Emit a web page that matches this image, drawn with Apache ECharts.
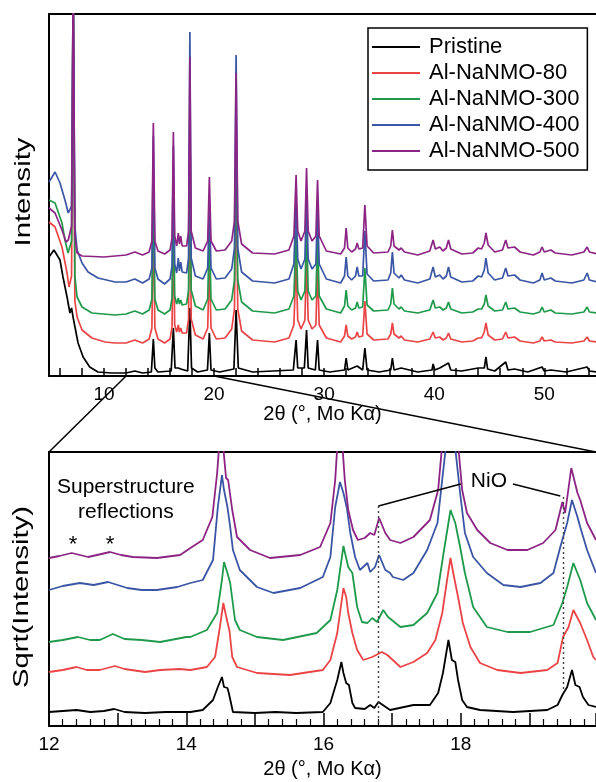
<!DOCTYPE html>
<html>
<head>
<meta charset="utf-8">
<script src="https://cdn.jsdelivr.net/npm/echarts@6.0.0/dist/echarts.min.js"></script>
<style>
html, body { margin: 0; padding: 0; background: #fff; }
#main { width: 596px; height: 782px; }
</style>
</head>
<body>
<div id="main"></div>
<script>
// sample names and colours
var names = ['Pristine', 'Al-NaNMO-80', 'Al-NaNMO-300', 'Al-NaNMO-400', 'Al-NaNMO-500'];
var colors = ['#000000', '#ea4446', '#1f9a4b', '#3b55a5', '#8c2484'];

// tick labels
var topLabels = [10, 20, 30, 40, 50];
var topTicks = [6, 8, 10, 12, 14, 16, 18, 20, 22, 24, 26, 28, 30, 32, 34, 36, 38, 40, 42, 44, 46, 48, 50, 52, 54];
var botLabels = [12, 14, 16, 18];

// full pattern, 2theta vs intensity (offset for display)
var pristineFull = [[5.0,119],[5.45,126],[6.0,116],[6.27,99],[6.64,79],[6.9,63],[7.05,68],[7.2,58],[7.36,49],[7.64,33],[8.1,19],[8.7,9],[9.45,4],[10.7,3],[12.0,3],[12.8,5],[13.5,3],[14.3,4],[14.48,37],[14.62,8],[14.9,4],[16.1,5],[16.3,48],[16.45,8],[16.75,8],[16.97,7],[17.6,5],[17.8,68],[17.95,8],[18.5,4],[19.4,6],[19.57,43],[19.72,6],[20.5,4],[21.8,7],[22.0,66],[22.2,8],[23.5,4],[27.2,6],[27.45,36],[27.6,8],[28.2,8],[28.4,46],[28.55,8],[29.2,6],[29.4,36],[29.55,6],[30.5,4],[31.85,6],[32.0,18],[32.15,6],[33.0,10],[33.5,6],[33.7,28],[33.9,6],[35.0,4],[36.05,6],[36.2,18],[36.35,6],[37.0,8],[38.5,4],[39.8,6],[39.9,12],[40.05,6],[40.5,8],[41.3,13],[41.5,6],[42.5,5],[44.0,8],[44.55,8],[44.7,19],[44.85,7],[45.5,5],[46.5,14],[46.7,6],[47.3,7],[48.5,4],[49.8,9],[50.0,5],[50.6,6],[52.0,4],[53.9,9],[54.1,5],[54.8,4]];
var al80Full = [[5.0,154],[5.55,149],[6.18,129],[6.64,103],[6.82,89],[7.05,100],[7.2,400],[7.35,75],[7.55,59],[8.0,46],[8.9,38],[10.1,34],[11.0,33],[12.0,33],[12.8,36],[13.5,33],[14.1,37],[14.35,48],[14.48,165],[14.62,48],[14.9,37],[15.5,33],[16.0,37],[16.18,49],[16.3,155],[16.42,51],[16.6,44],[16.75,51],[16.85,44],[16.97,48],[17.1,43],[17.5,43],[17.68,57],[17.8,225],[17.92,57],[18.3,41],[19.0,37],[19.42,48],[19.57,115],[19.72,48],[20.2,37],[21.0,38],[21.6,47],[21.85,67],[22.0,205],[22.15,67],[22.5,45],[23.5,36],[25.5,34],[26.8,38],[27.25,51],[27.45,115],[27.6,56],[27.9,47],[28.25,56],[28.4,120],[28.55,56],[28.9,47],[29.25,51],[29.4,110],[29.55,51],[30.2,38],[31.5,34],[31.85,40],[32.0,51],[32.15,40],[32.5,37],[32.85,39],[33.0,44],[33.15,39],[33.5,40],[33.7,75],[33.9,42],[34.5,36],[35.8,37],[36.05,42],[36.2,53],[36.35,42],[36.8,38],[37.0,40],[37.3,36],[38.5,34],[39.6,37],[39.9,44],[40.1,38],[40.5,39],[40.8,36],[41.1,38],[41.3,43],[41.5,37],[42.5,34],[43.5,35],[44.0,38],[44.3,38],[44.55,44],[44.7,53],[44.9,41],[45.5,36],[46.2,37],[46.5,44],[46.7,38],[47.3,39],[47.8,35],[49.0,33],[49.6,35],[49.8,39],[50.0,35],[50.6,36],[51.0,34],[52.5,33],[53.6,35],[53.9,39],[54.1,35],[54.8,34]];
var al300Full = [[5.0,176],[5.55,173],[6.18,153],[6.45,136],[6.73,123],[7.05,135],[7.2,400],[7.35,100],[7.55,79],[8.0,69],[8.9,63],[11.0,61],[12.0,62],[12.8,65],[13.5,62],[14.1,66],[14.35,77],[14.48,195],[14.62,77],[14.9,66],[15.5,62],[16.0,66],[16.18,78],[16.3,185],[16.42,80],[16.6,72],[16.75,78],[16.85,72],[16.97,76],[17.1,71],[17.5,72],[17.68,86],[17.8,265],[17.92,86],[18.3,70],[19.0,66],[19.42,77],[19.57,145],[19.72,77],[20.2,66],[21.0,67],[21.6,76],[21.85,96],[22.0,245],[22.15,96],[22.5,74],[23.5,65],[25.5,63],[26.8,67],[27.25,80],[27.45,145],[27.6,85],[27.9,76],[28.25,85],[28.4,150],[28.55,85],[28.9,76],[29.25,80],[29.4,140],[29.55,80],[30.2,67],[31.5,63],[31.85,70],[32.0,86],[32.15,70],[32.5,66],[32.85,68],[33.0,74],[33.15,68],[33.5,69],[33.7,108],[33.9,71],[34.5,65],[35.8,66],[36.05,72],[36.2,88],[36.35,72],[36.8,67],[37.0,69],[37.3,65],[38.5,63],[39.6,66],[39.9,76],[40.1,68],[40.5,69],[40.8,66],[41.1,68],[41.3,74],[41.5,67],[42.5,63],[43.5,64],[44.0,67],[44.3,67],[44.55,72],[44.7,81],[44.9,70],[45.5,65],[46.2,66],[46.5,74],[46.7,67],[47.3,68],[47.8,64],[49.0,62],[49.6,64],[49.8,69],[50.0,64],[50.6,66],[51.0,63],[52.5,62],[53.6,64],[53.9,69],[54.1,64],[54.8,63]];
var al400Full = [[5.0,194],[5.55,204],[6.0,193],[6.45,176],[6.75,163],[7.05,170],[7.2,400],[7.35,150],[7.55,126],[8.0,113],[8.55,104],[9.45,98],[11.0,94],[12.0,94],[12.8,97],[13.5,93],[14.1,97],[14.35,108],[14.48,240],[14.62,108],[14.9,97],[15.5,92],[16.0,97],[16.18,110],[16.3,230],[16.42,112],[16.6,103],[16.75,118],[16.85,105],[16.97,114],[17.1,104],[17.5,103],[17.68,118],[17.8,344],[17.92,118],[18.3,100],[19.0,97],[19.42,108],[19.57,175],[19.72,108],[20.2,97],[21.0,98],[21.6,107],[21.85,128],[22.0,321],[22.15,128],[22.5,104],[23.5,95],[25.5,93],[26.8,97],[27.25,112],[27.45,175],[27.6,117],[27.9,107],[28.25,117],[28.4,180],[28.55,117],[28.9,107],[29.25,112],[29.4,170],[29.55,112],[30.2,97],[31.5,93],[31.85,100],[32.0,119],[32.15,100],[32.5,96],[32.85,100],[33.0,109],[33.15,100],[33.5,100],[33.7,145],[33.9,102],[34.5,95],[35.8,96],[36.05,103],[36.2,124],[36.35,103],[36.8,98],[37.0,101],[37.3,96],[38.5,93],[39.6,97],[39.9,109],[40.1,99],[40.5,101],[40.8,97],[41.1,100],[41.3,109],[41.5,99],[42.5,94],[43.5,95],[44.0,100],[44.3,99],[44.55,106],[44.7,118],[44.9,103],[45.5,96],[46.2,98],[46.5,108],[46.7,100],[47.3,101],[47.8,96],[49.0,93],[49.6,96],[49.8,103],[50.0,96],[50.6,98],[51.0,95],[52.5,93],[53.6,96],[53.9,103],[54.1,96],[54.8,94]];
var al500Full = [[5.0,168],[5.55,163],[6.18,146],[6.55,134],[6.75,136],[7.05,150],[7.2,400],[7.35,140],[7.55,123],[8.0,120],[10.0,119],[12.0,121],[12.8,124],[13.5,121],[14.1,124],[14.35,135],[14.48,253],[14.62,135],[14.9,125],[15.5,122],[16.0,126],[16.18,138],[16.3,244],[16.42,140],[16.6,130],[16.75,143],[16.85,132],[16.97,140],[17.1,130],[17.5,130],[17.68,145],[17.8,319],[17.92,145],[18.3,128],[19.0,125],[19.42,135],[19.57,199],[19.72,135],[20.2,125],[21.0,126],[21.6,135],[21.85,155],[22.0,303],[22.15,155],[22.5,132],[23.5,123],[25.5,122],[26.8,126],[27.25,140],[27.45,201],[27.6,145],[27.9,135],[28.25,145],[28.4,208],[28.55,145],[28.9,135],[29.25,140],[29.4,196],[29.55,140],[30.2,125],[31.5,122],[31.85,128],[32.0,148],[32.15,128],[32.5,124],[32.85,127],[33.0,133],[33.15,127],[33.5,128],[33.7,171],[33.9,130],[34.5,123],[35.8,124],[36.05,130],[36.2,146],[36.35,130],[36.8,126],[37.0,128],[37.3,124],[38.5,121],[39.6,125],[39.9,136],[40.1,127],[40.5,129],[40.8,125],[41.1,128],[41.3,136],[41.5,127],[42.5,122],[43.5,123],[44.0,128],[44.3,127],[44.55,133],[44.7,143],[44.9,131],[45.5,124],[46.2,126],[46.5,136],[46.7,128],[47.3,129],[47.8,124],[49.0,121],[49.6,124],[49.8,129],[50.0,124],[50.6,126],[51.0,123],[52.5,121],[53.6,124],[53.9,129],[54.1,124],[54.8,122]];

// zoom 12-20 deg, sqrt(intensity) (offset for display)
var pristineZoom = [[12.0,14],[12.2,15],[12.4,16],[12.6,14],[12.8,15],[12.95,17],[13.1,14],[13.4,13],[13.7,14],[14.06,14],[14.24,16],[14.39,26],[14.46,39],[14.52,49],[14.55,39],[14.6,38],[14.62,33],[14.68,14],[15.0,13],[15.3,14],[15.6,13],[15.99,14],[16.1,23],[16.2,46],[16.26,64],[16.29,53],[16.33,43],[16.37,41],[16.42,23],[16.46,18],[16.6,17],[16.68,21],[16.74,18],[16.8,24],[16.97,16],[17.31,21],[17.55,21],[17.67,33],[17.74,53],[17.82,86],[17.87,66],[17.92,64],[17.96,46],[18.02,26],[18.09,19],[18.28,16],[18.76,14],[19.26,16],[19.41,21],[19.48,31],[19.55,39],[19.62,56],[19.67,41],[19.73,39],[19.78,29],[19.86,21],[19.97,19]];
var al80Zoom = [[12.0,54],[12.2,56],[12.4,59],[12.55,56],[12.74,56],[12.96,60],[13.1,57],[13.4,54],[13.62,56],[13.9,57],[14.06,56],[14.3,59],[14.42,69],[14.49,99],[14.54,123],[14.58,110],[14.63,95],[14.67,69],[14.74,59],[15.03,53],[15.51,51],[15.99,56],[16.1,66],[16.2,93],[16.29,138],[16.33,129],[16.36,113],[16.42,93],[16.49,76],[16.58,66],[16.71,69],[16.85,74],[16.93,71],[17.12,59],[17.31,64],[17.51,73],[17.63,86],[17.73,113],[17.8,146],[17.85,168],[17.89,153],[17.96,129],[18.03,103],[18.14,79],[18.28,63],[18.53,56],[18.87,53],[19.26,56],[19.41,63],[19.49,89],[19.57,99],[19.64,116],[19.74,103],[19.84,86],[19.93,69],[19.97,66]];
var al300Zoom = [[12.0,84],[12.2,86],[12.42,89],[12.6,86],[12.74,86],[12.93,92],[13.1,87],[13.35,86],[13.62,84],[14.0,89],[14.06,89],[14.3,96],[14.45,113],[14.52,146],[14.55,164],[14.6,153],[14.64,143],[14.71,106],[14.78,96],[15.03,89],[15.41,86],[15.9,93],[16.1,106],[16.2,136],[16.29,180],[16.36,159],[16.42,153],[16.49,119],[16.56,104],[16.64,103],[16.71,108],[16.78,104],[16.87,116],[16.94,109],[17.12,99],[17.31,101],[17.51,113],[17.66,133],[17.74,169],[17.85,216],[17.92,203],[17.99,179],[18.06,153],[18.18,119],[18.38,99],[18.68,94],[19.01,94],[19.35,101],[19.48,123],[19.55,139],[19.64,163],[19.74,146],[19.84,123],[19.97,106]];
var al400Zoom = [[12.0,136],[12.2,140],[12.45,143],[12.65,141],[12.86,144],[13.14,138],[13.35,136],[13.57,136],[13.87,139],[14.06,143],[14.24,146],[14.39,166],[14.46,219],[14.52,251],[14.55,236],[14.6,219],[14.64,199],[14.68,176],[14.78,156],[15.03,139],[15.27,133],[15.66,138],[15.99,149],[16.1,169],[16.17,219],[16.24,244],[16.29,233],[16.34,218],[16.39,193],[16.46,169],[16.53,156],[16.64,163],[16.68,154],[16.75,159],[16.81,171],[16.9,156],[16.97,153],[17.01,149],[17.16,146],[17.31,153],[17.51,176],[17.66,203],[17.74,253],[17.8,290],[17.9,290],[17.99,233],[18.06,193],[18.18,169],[18.38,153],[18.62,141],[18.87,139],[19.16,143],[19.35,153],[19.45,179],[19.55,203],[19.62,226],[19.7,209],[19.74,199],[19.84,176],[19.97,153]];
var al500Zoom = [[12.0,168],[12.15,170],[12.33,173],[12.57,169],[12.89,174],[13.05,171],[13.22,169],[13.57,168],[13.91,171],[14.06,178],[14.24,186],[14.38,209],[14.45,253],[14.49,290],[14.53,285],[14.58,248],[14.61,246],[14.67,216],[14.74,189],[14.93,176],[15.22,168],[15.66,171],[15.95,179],[16.1,203],[16.17,246],[16.21,290],[16.27,285],[16.31,246],[16.36,216],[16.43,196],[16.5,186],[16.6,188],[16.68,193],[16.74,191],[16.81,208],[16.9,193],[16.97,186],[17.12,183],[17.31,189],[17.55,206],[17.67,236],[17.74,290],[17.95,290],[18.02,236],[18.09,213],[18.24,196],[18.43,183],[18.68,176],[18.97,176],[19.2,183],[19.38,196],[19.48,224],[19.52,213],[19.61,258],[19.7,233],[19.74,226],[19.84,203],[19.97,186]];

var fullData = [pristineFull, al80Full, al300Full, al400Full, al500Full];
var zoomData = [pristineZoom, al80Zoom, al300Zoom, al400Zoom, al500Zoom];

var FONT = "'Liberation Sans', Arial, sans-serif";
var myChart = echarts.init(document.getElementById('main'));

var series = [];
for (var i = 0; i < names.length; i++) {
    series.push({
        name: names[i], type: 'line', xAxisIndex: 0, yAxisIndex: 0,
        data: fullData[i], symbol: 'none', animation: false,
        lineStyle: { color: colors[i], width: 1.7 }, itemStyle: { color: colors[i] }
    });
}
for (var j = 0; j < names.length; j++) {
    var s = {
        name: names[j], type: 'line', xAxisIndex: 2, yAxisIndex: 1,
        data: zoomData[j], symbol: 'none', animation: false,
        lineStyle: { color: colors[j], width: 1.8 }, itemStyle: { color: colors[j] }
    };
    if (j === 0) {
        // NiO guide lines
        s.markLine = {
            silent: true, symbol: ['none', 'none'], animation: false,
            label: { show: false },
            lineStyle: { color: '#000', width: 1.4, type: 'solid' },
            data: [
                [{ coord: [16.8, 220], lineStyle: { type: [2, 3], color: '#444' } }, { coord: [16.8, 1] }],
                [{ coord: [19.49, 229], lineStyle: { type: [2, 3], color: '#444' } }, { coord: [19.49, 36] }],
                [{ coord: [16.8, 220] }, { coord: [18.0, 242] }],
                [{ coord: [18.76, 242] }, { coord: [19.45, 230] }]
            ]
        };
    }
    series.push(s);
}

var axisLine = { show: true, lineStyle: { color: '#000', width: 2 } };

var option = {
    backgroundColor: '#fff',
    animation: false,
    legend: {
        data: names, orient: 'vertical', left: 368, top: 28,
        icon: 'rect', itemWidth: 48, itemHeight: 2,
        padding: [8, 8, 8, 4], itemGap: 4,
        borderColor: '#000', borderWidth: 1.5,
        textStyle: { fontFamily: FONT, fontSize: 22, color: '#000', lineHeight: 22, padding: [0, 0, 0, 4] }
    },
    grid: [
        { left: 49, top: 14, right: 0, height: 362 },
        { left: 49, top: 452, right: 0, height: 274 }
    ],
    xAxis: [
        {
            type: 'value', gridIndex: 0, min: 5, max: 54.7, position: 'bottom',
            axisLine: axisLine, splitLine: { show: false },
            axisTick: { show: true, inside: true, length: 8, customValues: topTicks, lineStyle: { color: '#000', width: 1.5 } },
            axisLabel: { customValues: topLabels, margin: 9, fontFamily: FONT, fontSize: 19, color: '#000' },
            name: '2θ (°, Mo Kα)', nameLocation: 'middle', nameGap: 26,
            nameTextStyle: { fontFamily: FONT, fontSize: 20, color: '#000' }
        },
        {
            type: 'value', gridIndex: 0, min: 5, max: 54.7, position: 'top',
            axisLine: axisLine, axisTick: { show: false }, axisLabel: { show: false }, splitLine: { show: false }
        },
        {
            type: 'value', gridIndex: 1, min: 12, max: 19.97, interval: 1, position: 'bottom',
            axisLine: axisLine, splitLine: { show: false },
            axisTick: { show: true, inside: true, length: 13, lineStyle: { color: '#000', width: 1.5 } },
            minorTick: { show: true, splitNumber: 5, length: 7, lineStyle: { color: '#000', width: 1.2 } },
            axisLabel: {
                margin: 9, fontFamily: FONT, fontSize: 19, color: '#000', showMaxLabel: false,
                formatter: function (v) { return botLabels.indexOf(v) >= 0 ? String(v) : ''; }
            },
            name: '2θ (°, Mo Kα)', nameLocation: 'middle', nameGap: 33,
            nameTextStyle: { fontFamily: FONT, fontSize: 20, color: '#000' }
        },
        {
            type: 'value', gridIndex: 1, min: 12, max: 19.97, position: 'top',
            axisLine: axisLine, axisTick: { show: false }, axisLabel: { show: false }, splitLine: { show: false }
        }
    ],
    yAxis: [
        {
            type: 'value', gridIndex: 0, min: 0, max: 362,
            axisLine: axisLine, axisTick: { show: false }, axisLabel: { show: false }, splitLine: { show: false }
        },
        {
            type: 'value', gridIndex: 1, min: 0, max: 274,
            axisLine: axisLine, axisTick: { show: false }, axisLabel: { show: false }, splitLine: { show: false }
        }
    ],
    series: series
};
myChart.setOption(option);

// annotations placed through the axes
function topPx(x, v) { return myChart.convertToPixel({ xAxisIndex: 0, yAxisIndex: 0 }, [x, v]); }
function botPx(x, v) { return myChart.convertToPixel({ xAxisIndex: 2, yAxisIndex: 1 }, [x, v]); }

var a1 = topPx(12, 0), b1 = botPx(12, 274);
var a2 = topPx(20, 0), b2 = botPx(19.97, 274);
var tSup = botPx(13.12, 239), tRef = botPx(13.12, 214);
var star1 = botPx(12.35, 181), star2 = botPx(12.89, 181);
var tNiO = botPx(18.41, 245);

function label(p, text, size) {
    return {
        type: 'text', x: p[0], y: p[1], silent: true, z: 100,
        style: { text: text, fontFamily: FONT, fontSize: size, fill: '#000', align: 'center', verticalAlign: 'middle' }
    };
}
function yName(cx, cy, text) {
    return {
        type: 'text', x: cx, y: cy, rotation: Math.PI / 2, scaleX: 1.33, scaleY: 1, silent: true,
        style: { text: text, fontFamily: FONT, fontSize: 22, fill: '#000', align: 'center', verticalAlign: 'middle' }
    };
}

myChart.setOption({
    graphic: [
        { type: 'line', silent: true, shape: { x1: a1[0], y1: a1[1], x2: b1[0], y2: b1[1] }, style: { stroke: '#000', lineWidth: 1.5 } },
        { type: 'line', silent: true, shape: { x1: a2[0], y1: a2[1], x2: b2[0], y2: b2[1] }, style: { stroke: '#000', lineWidth: 1.5 } },
        label(tSup, 'Superstructure', 21),
        label(tRef, 'reflections', 21),
        label(star1, '*', 22),
        label(star2, '*', 22),
        label(tNiO, 'NiO', 21),
        yName(24, 192, 'Intensity'),
        yName(22, 597, 'Sqrt(Intensity)')
    ]
});
</script>
</body>
</html>
